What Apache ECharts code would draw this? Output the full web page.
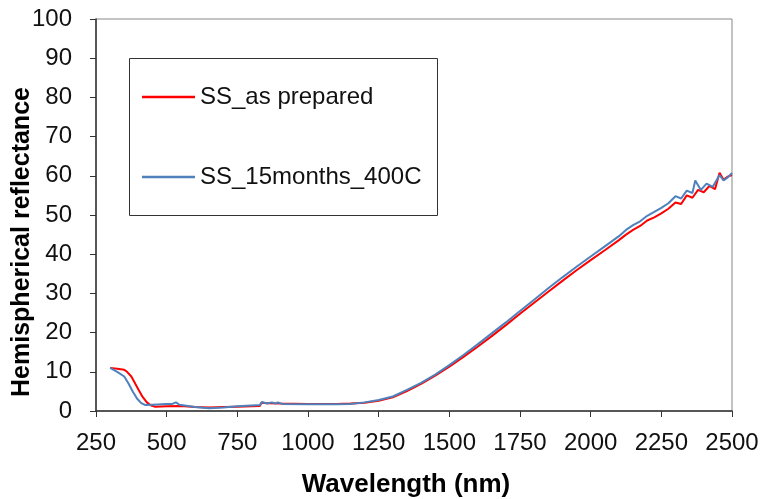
<!DOCTYPE html>
<html>
<head>
<meta charset="utf-8">
<script src="https://cdn.jsdelivr.net/npm/echarts@6/dist/echarts.min.js"></script>
<style>html,body{margin:0;padding:0;background:#fff;}#c{width:763px;height:499px;}</style>
</head>
<body>
<div id="c"></div>
<script>
var seriesNames = ['SS_as prepared', 'SS_15months_400C'];
var xTicks = [250, 500, 750, 1000, 1250, 1500, 1750, 2000, 2250, 2500];
var yTicks = [0, 10, 20, 30, 40, 50, 60, 70, 80, 90, 100];

var redData = [
  [300,11.0],[325,10.8],[350,10.5],[360,10.0],[375,8.8],[390,6.8],[400,5.5],[415,3.6],[430,2.2],[445,1.4],[460,1.1],
  [500,1.2],[550,1.3],[600,1.0],[650,0.9],[700,1.0],[750,1.1],[800,1.2],[830,1.3],[835,2.1],[860,2.0],[900,1.9],
  [1000,1.8],[1100,1.8],[1150,1.9],[1200,2.1],[1250,2.6],[1300,3.5],[1350,5.1],[1400,6.9],[1450,9.0],[1500,11.3],
  [1550,13.8],[1600,16.4],[1650,19.1],[1700,21.9],[1750,24.8],[1800,27.6],[1850,30.4],[1900,33.2],[1950,35.9],
  [2000,38.5],[2050,41.0],[2100,43.6],[2125,45.0],[2150,46.2],[2175,47.2],[2200,48.6],[2225,49.4],[2250,50.4],
  [2275,51.6],[2300,53.2],[2320,52.8],[2340,55.0],[2360,54.4],[2380,56.4],[2400,55.8],[2420,57.4],[2440,56.6],
  [2456,60.8],[2470,59.0],[2485,59.8],[2500,60.2]
];
var blueData = [
  [300,11.0],[325,10.0],[350,8.8],[365,7.0],[380,5.0],[395,3.2],[410,2.0],[425,1.5],[450,1.6],[500,1.8],[520,1.8],
  [533,2.2],[545,1.6],[600,1.0],[650,0.7],[700,0.9],[750,1.2],[800,1.4],[830,1.5],[837,2.3],[855,1.9],[872,2.2],
  [885,1.9],[893,2.2],[910,1.8],[1000,1.7],[1100,1.7],[1150,1.8],[1200,2.2],[1250,2.8],[1300,3.7],[1350,5.4],
  [1400,7.2],[1450,9.3],[1500,11.7],[1550,14.3],[1600,17.0],[1650,19.8],[1700,22.6],[1750,25.5],[1800,28.4],
  [1850,31.3],[1900,34.1],[1950,36.8],[2000,39.4],[2050,42.0],[2100,44.6],[2125,46.2],[2150,47.4],[2175,48.4],
  [2200,49.8],[2225,50.8],[2250,51.8],[2275,53.0],[2300,54.8],[2320,54.2],[2340,56.2],[2360,55.6],[2370,58.8],
  [2390,56.4],[2410,58.0],[2432,57.2],[2456,60.2],[2470,58.8],[2485,59.6],[2500,60.7]
];

var chart = echarts.init(document.getElementById('c'), null, {renderer: 'canvas'});
var font = '"Liberation Sans", Arial, sans-serif';
chart.setOption({
  animation: false,
  backgroundColor: '#ffffff',
  grid: {left: 96, right: 31, top: 19, bottom: 88, containLabel: false, outerBoundsMode: 'none',
    show: true, borderColor: '#888888', borderWidth: 1, backgroundColor: 'transparent'},
  graphic: [{
    type: 'rect', left: 129, top: 58, z: 1,
    shape: {width: 308, height: 157},
    style: {fill: '#ffffff', stroke: '#333333', lineWidth: 1}
  }],
  legend: {
    orient: 'vertical', left: 142, top: 85, z: 10, padding: 0,
    icon: 'rect', itemWidth: 53, itemHeight: 2.5, itemGap: 56,
    data: seriesNames,
    textStyle: {fontFamily: font, fontSize: 24, color: '#111111', lineHeight: 24}
  },
  xAxis: {
    type: 'value', min: xTicks[0], max: xTicks[xTicks.length-1], interval: 250,
    name: 'Wavelength (nm)', nameLocation: 'middle', nameGap: 61, nameMoveOverlap: false,
    nameTextStyle: {fontFamily: font, fontSize: 26, fontWeight: 'bold', color: '#000', padding: [0, 16, 0, 0]},
    axisLine: {show: true, lineStyle: {color: '#333333', width: 1.5}},
    axisTick: {show: true, inside: false, length: 6, lineStyle: {color: '#333333'}},
    axisLabel: {fontFamily: font, fontSize: 24, color: '#111111', margin: 20, showMinLabel: true, showMaxLabel: true,
      formatter: function (v) { return String(v); }},
    splitLine: {show: false}
  },
  yAxis: {
    type: 'value', min: yTicks[0], max: yTicks[yTicks.length-1], interval: 10,
    name: 'Hemispherical reflectance', nameLocation: 'middle', nameGap: 61, nameMoveOverlap: false,
    nameTextStyle: {fontFamily: font, fontSize: 25, fontWeight: 'bold', color: '#000', padding: [0, 54, 0, 0]},
    axisLine: {show: true, lineStyle: {color: '#333333', width: 1.5}},
    axisTick: {show: true, inside: false, length: 6, lineStyle: {color: '#333333'}},
    axisLabel: {fontFamily: font, fontSize: 24, color: '#111111', margin: 24},
    splitLine: {show: false}
  },
  series: [
    {name: seriesNames[0], type: 'line', data: redData, symbol: 'none', showSymbol: false, z: 3,
     lineStyle: {color: '#ff0000', width: 2}, itemStyle: {color: '#ff0000'}},
    {name: seriesNames[1], type: 'line', data: blueData, symbol: 'none', showSymbol: false, z: 4,
     lineStyle: {color: '#4f81bd', width: 2}, itemStyle: {color: '#4f81bd'}}
  ]
});
</script>
</body>
</html>
